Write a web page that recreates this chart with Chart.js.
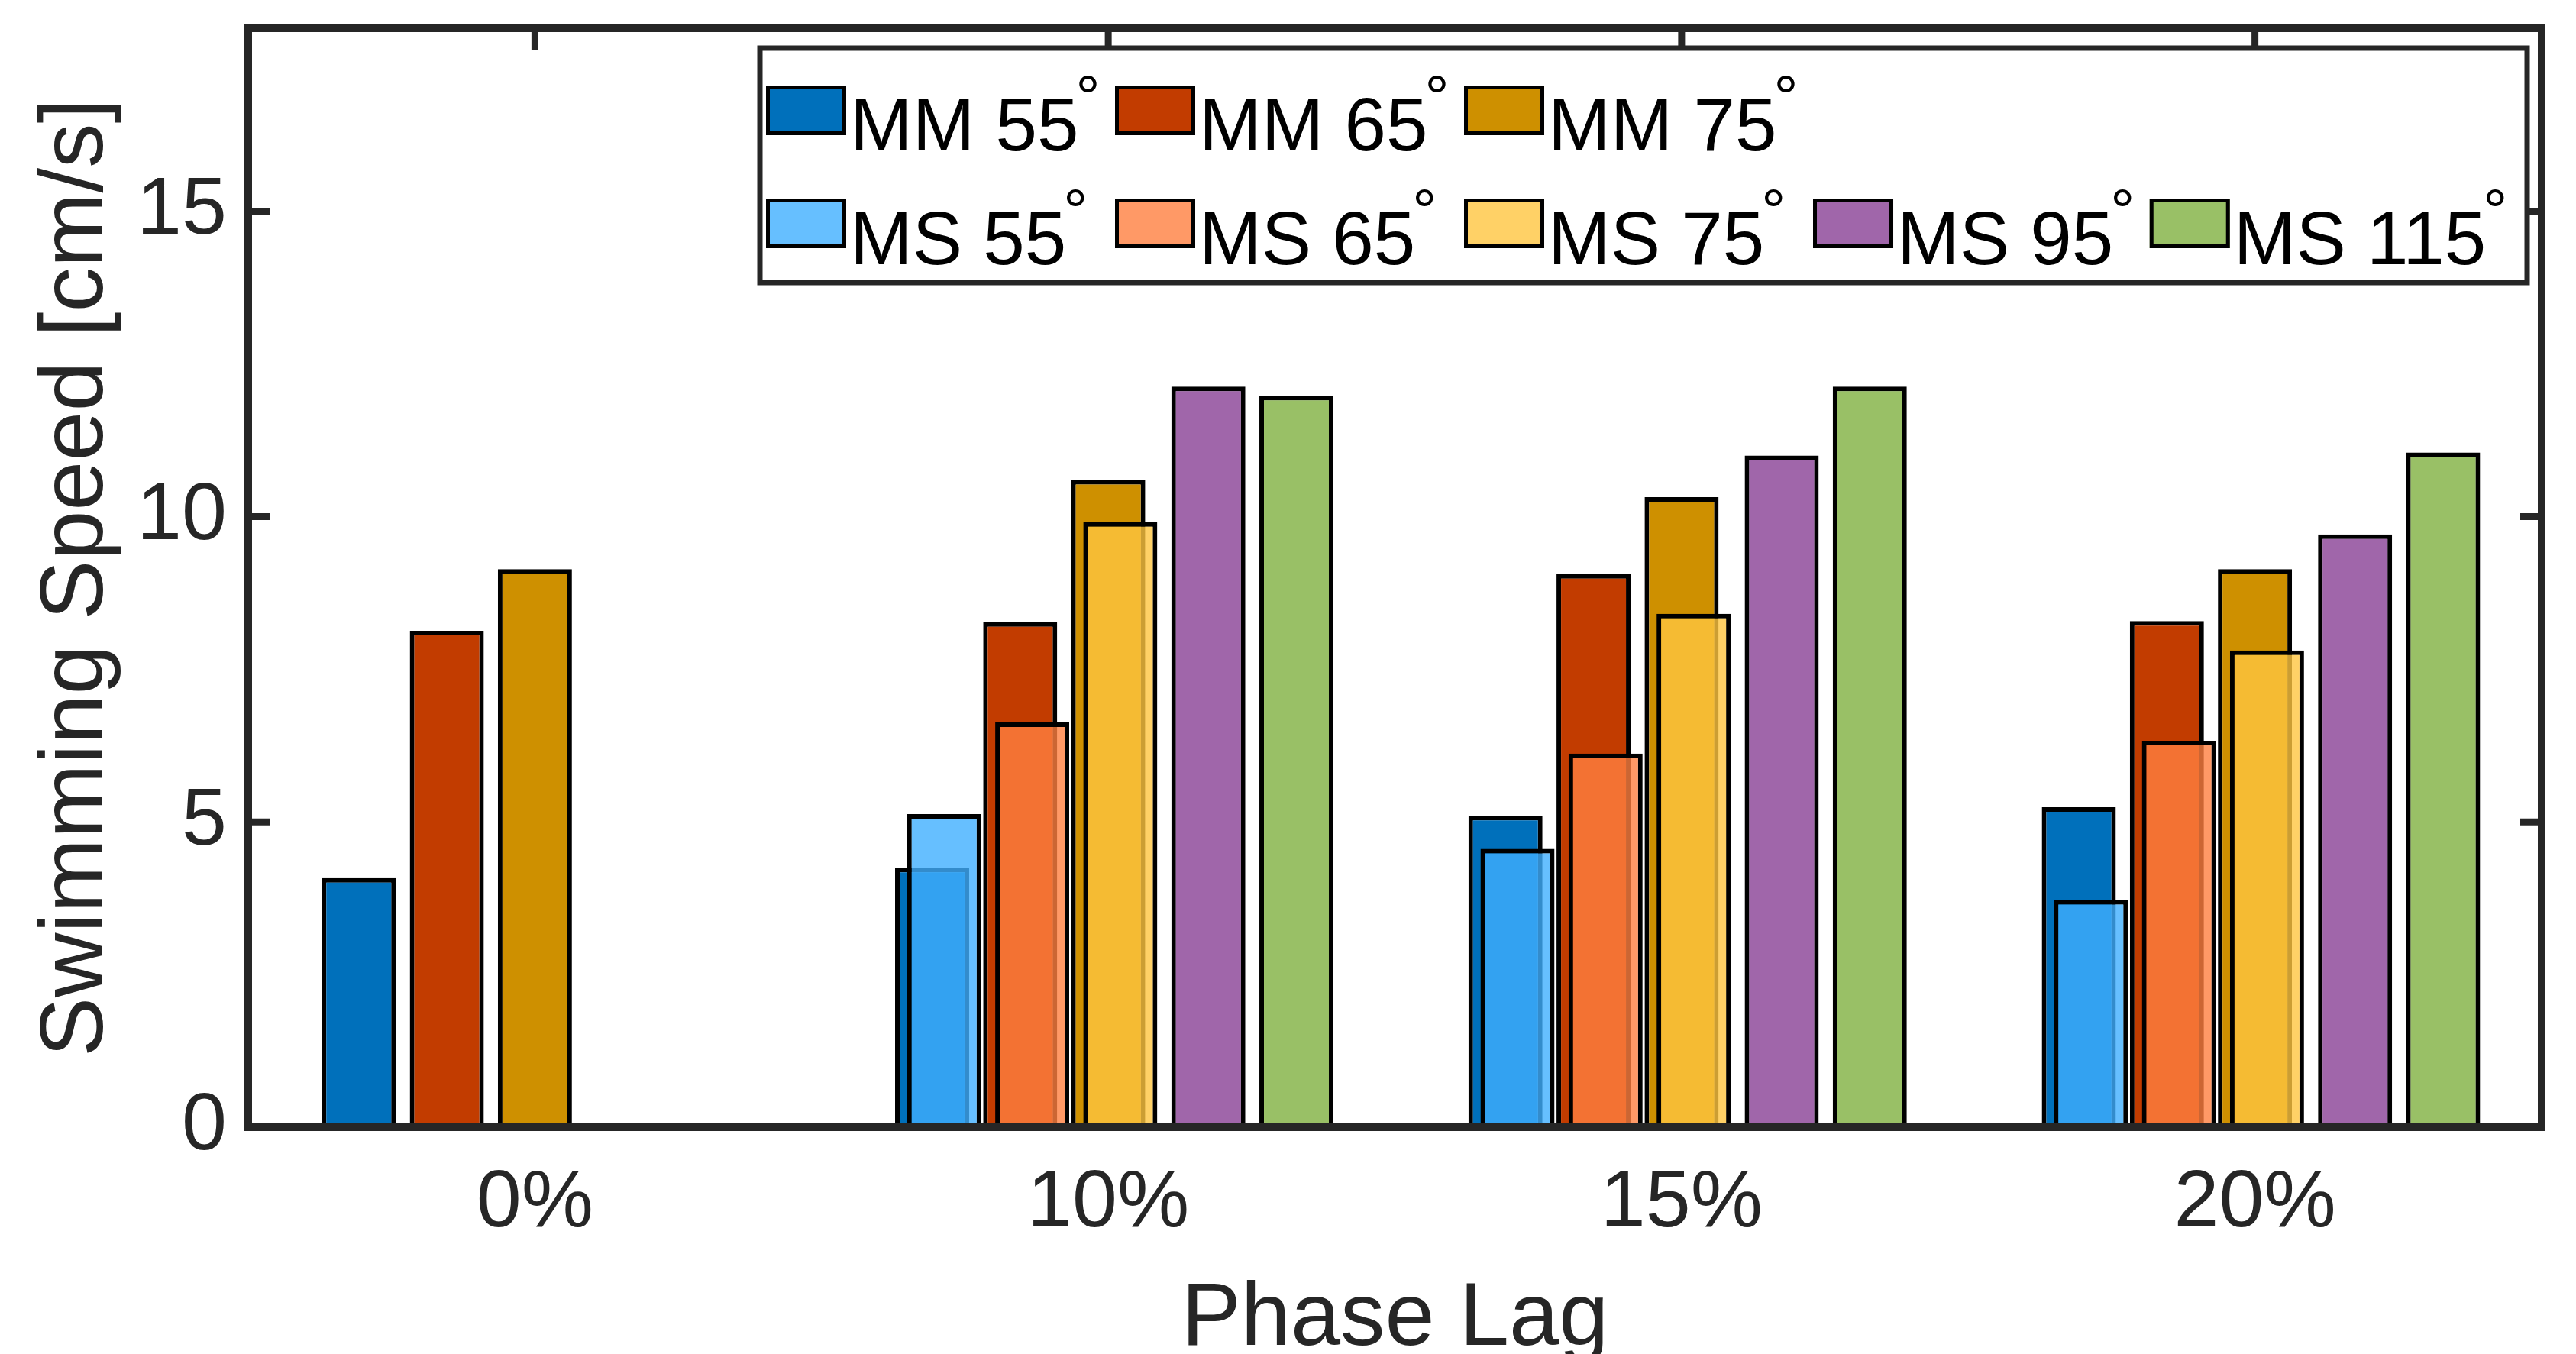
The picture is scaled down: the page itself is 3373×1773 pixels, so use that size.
<!DOCTYPE html>
<html lang="en">
<head>
  <meta charset="UTF-8">
  <title>Swimming Speed vs Phase Lag</title>
  <script src="https://cdn.jsdelivr.net/npm/chart.js"></script>
  <style>
    html, body { margin: 0; padding: 0; background: #fff; }
    canvas { display: block; }
  </style>
</head>
<body>
  <canvas id="speedChart" width="3373" height="1773"></canvas>

  <script>
    // categories and y ticks
    const phaseLags = ['0%', '10%', '15%', '20%'];
    const yTicks = [0, 5, 10, 15];

    // MM series
    const mm55 = [4.08, 4.25, 5.10, 5.24];
    const mm65 = [8.13, 8.27, 9.06, 8.29];
    const mm75 = [9.14, 10.60, 10.32, 9.14];

    // MS series (zero at 0% phase lag)
    const ms55 = [0, 5.13, 4.56, 3.72];
    const ms65 = [0, 6.63, 6.12, 6.33];
    const ms75 = [0, 9.91, 8.41, 7.81];
    const ms95 = [0, 12.13, 11.00, 9.71];
    const ms115 = [0, 11.98, 12.13, 11.05];

    const FONT = "'Liberation Sans', Arial, Helvetica, sans-serif";
    const AXIS = '#262626';
    const msOffset = 0.021; // MS bars sit slightly right of the MM bars (fraction of a category)

    function barSet(label, data, color, slot, group) {
      return {
        label: label,
        data: data,
        group: group,
        stack: slot,               // same slot for MM/MS of equal angle, they overlap
        order: group === 'MS' ? 0 : 1,  // MS drawn on top
        backgroundColor: color,
        borderColor: '#000',
        borderWidth: 6,
        categoryPercentage: 0.768,
        barPercentage: 0.841
      };
    }

    // box, inward ticks, MS shift and the two-row legend
    const framePlugin = {
      id: 'frame',
      beforeDatasetsDraw(chart) {
        const {ctx, chartArea: a, scales: {x, y}} = chart;
        ctx.save();
        ctx.strokeStyle = AXIS;
        ctx.lineWidth = 9;
        ctx.beginPath();
        yTicks.forEach(v => {
          if (v === 0) return;
          const py = y.getPixelForValue(v);
          ctx.moveTo(a.left, py); ctx.lineTo(a.left + 28, py);
          ctx.moveTo(a.right, py); ctx.lineTo(a.right - 28, py);
        });
        phaseLags.forEach((l, i) => {
          const px = x.getPixelForValue(i);
          ctx.moveTo(px, a.top); ctx.lineTo(px, a.top + 28);
          ctx.moveTo(px, a.bottom); ctx.lineTo(px, a.bottom - 28);
        });
        ctx.stroke();
        ctx.restore();
      },
      beforeDatasetDraw(chart, args) {
        const ds = chart.data.datasets[args.index];
        if (ds.group !== 'MS') return;
        const x = chart.scales.x;
        const step = x.getPixelForValue(1) - x.getPixelForValue(0);
        chart.ctx.save();
        chart.ctx.translate(msOffset * step, 0);
      },
      afterDatasetDraw(chart, args) {
        if (chart.data.datasets[args.index].group === 'MS') chart.ctx.restore();
      },
      afterDatasetsDraw(chart) {
        const {ctx, chartArea: a} = chart;
        ctx.save();
        ctx.strokeStyle = AXIS;
        ctx.lineWidth = 10;
        ctx.strokeRect(a.left, a.top, a.right - a.left, a.bottom - a.top);
        ctx.restore();
      },
      afterDraw(chart) {
        const ctx = chart.ctx;
        const box = {left: 995, top: 63, right: 3309, bottom: 370};
        const rows = [
          chart.data.datasets.filter(d => d.group === 'MM'),
          chart.data.datasets.filter(d => d.group === 'MS')
        ];
        const swTop = [112, 260];
        const baseY = [197, 346];
        const swW = 105, swH = 65;

        ctx.save();
        ctx.fillStyle = '#fff';
        ctx.fillRect(box.left, box.top, box.right - box.left, box.bottom - box.top);
        ctx.strokeStyle = AXIS;
        ctx.lineWidth = 7;
        ctx.strokeRect(box.left, box.top, box.right - box.left, box.bottom - box.top);

        // column widths follow the widest label in each column
        ctx.font = '98px ' + FONT;
        const nCols = Math.max(rows[0].length, rows[1].length);
        const colX = [1003];
        for (let c = 0; c < nCols - 1; c++) {
          let w = 0;
          rows.forEach(r => { if (r[c]) w = Math.max(w, ctx.measureText(r[c].label).width); });
          colX.push(colX[c] + swW + 5 + w + 47.5);
        }

        rows.forEach((r, ri) => {
          r.forEach((d, ci) => {
            const sx = colX[ci];
            ctx.fillStyle = '#fff';
            ctx.fillRect(sx, swTop[ri], swW, swH);
            ctx.fillStyle = d.backgroundColor;
            ctx.fillRect(sx, swTop[ri], swW, swH);
            ctx.strokeStyle = '#000';
            ctx.lineWidth = 5;
            ctx.strokeRect(sx + 2.5, swTop[ri] + 2.5, swW - 5, swH - 5);

            ctx.fillStyle = '#000';
            ctx.textBaseline = 'alphabetic';
            ctx.textAlign = 'left';
            ctx.font = '98px ' + FONT;
            const tx = sx + swW + 5;
            ctx.fillText(d.label, tx, baseY[ri]);
            const tw = ctx.measureText(d.label).width;
            ctx.font = '80px ' + FONT;
            ctx.fillText('°', tx + tw - 4, baseY[ri] - 42);
          });
        });
        ctx.restore();
      }
    };

    new Chart(document.getElementById('speedChart'), {
      type: 'bar',
      data: {
        labels: phaseLags,
        datasets: [
          barSet('MM 55', mm55, '#0070BB', 's1', 'MM'),
          barSet('MM 65', mm65, '#C23C00', 's2', 'MM'),
          barSet('MM 75', mm75, '#CE9000', 's3', 'MM'),
          barSet('MS 55', ms55, 'rgba(64,175,255,0.8)', 's1', 'MS'),
          barSet('MS 65', ms65, 'rgba(255,127,64,0.8)', 's2', 'MS'),
          barSet('MS 75', ms75, 'rgba(255,198,64,0.8)', 's3', 'MS'),
          barSet('MS 95', ms95, 'rgba(136,64,149,0.8)', 's4', 'MS'),
          barSet('MS 115', ms115, 'rgba(127,176,64,0.8)', 's5', 'MS')
        ]
      },
      options: {
        responsive: false,
        animation: false,
        devicePixelRatio: 1,
        layout: { padding: { top: 37, right: 45, left: 0, bottom: 0 } },
        plugins: {
          legend: { display: false },
          tooltip: { enabled: false }
        },
        scales: {
          x: {
            stacked: true,
            offset: true,
            grid: { display: false, drawTicks: false },
            border: { display: false },
            ticks: { color: AXIS, font: { family: FONT, size: 106 }, padding: 37, maxRotation: 0 },
            title: {
              display: true, text: 'Phase Lag', color: AXIS,
              font: { family: FONT, size: 117, lineHeight: 0.76 },
              padding: { top: 0, bottom: 0 }
            },
            afterFit(s) { s.height = 297; s.paddingLeft = 0; s.paddingRight = 0; }
          },
          y: {
            stacked: false,
            min: 0,
            max: 18,
            grid: { display: false, drawTicks: false },
            border: { display: false },
            afterBuildTicks(s) { s.ticks = yTicks.map(v => ({ value: v })); },
            ticks: { color: AXIS, font: { family: FONT, size: 106 }, padding: 28 },
            title: {
              display: true, text: 'Swimming Speed [cm/s]', color: AXIS,
              font: { family: FONT, size: 117, lineHeight: 0.9 },
              padding: { top: 49, bottom: 0 }
            },
            afterFit(s) { s.width = 325; s.paddingTop = 0; s.paddingBottom = 0; }
          }
        }
      },
      plugins: [framePlugin]
    });
  </script>
</body>
</html>
